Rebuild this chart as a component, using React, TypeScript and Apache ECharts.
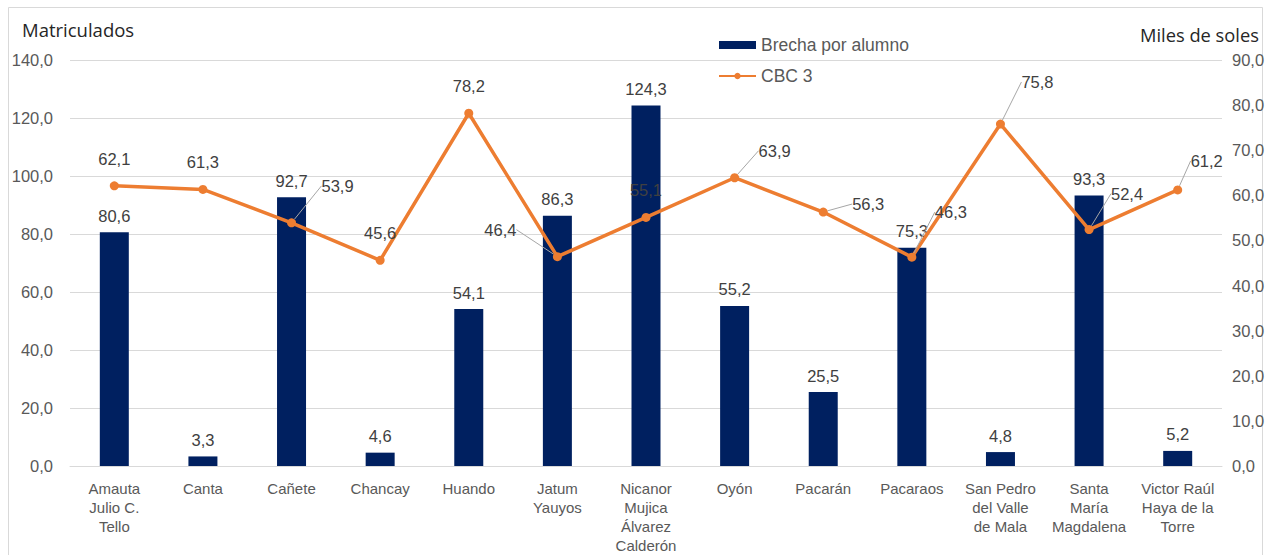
import React, { useEffect, useRef } from "react";
import * as echarts from "echarts";

const categories = [
  "Amauta\nJulio C.\nTello",
  "Canta",
  "Cañete",
  "Chancay",
  "Huando",
  "Jatum\nYauyos",
  "Nicanor\nMujica\nÁlvarez\nCalderón",
  "Oyón",
  "Pacarán",
  "Pacaraos",
  "San Pedro\ndel Valle\nde Mala",
  "Santa\nMaría\nMagdalena",
  "Victor Raúl\nHaya de la\nTorre",
];
const brechaPorAlumno = [80.6, 3.3, 92.7, 4.6, 54.1, 86.3, 124.3, 55.2, 25.5, 75.3, 4.8, 93.3, 5.2];
const cbc3 = [62.1, 61.3, 53.9, 45.6, 78.2, 46.4, 55.1, 63.9, 56.3, 46.3, 75.8, 52.4, 61.2];
// label shifts (dx, dy) for line labels that use leader lines
const cbcLabelShift: Record<number, [number, number]> = {
  2: [46, -10],
  5: [-57, 0],
  7: [40, 0],
  8: [45, 19],
  9: [39, -18],
  10: [37, -15],
  11: [38, -9],
  12: [29, -2],
};

const fmt = (v: number) => v.toFixed(1).replace(".", ",");
const FONT = "'Liberation Sans', Arial, sans-serif";
const NAME_FONT = "'Open Sans', 'Noto Sans', sans-serif";

export default function App() {
  const ref = useRef<HTMLDivElement>(null);
  useEffect(() => {
    if (!ref.current) return;
    const chart = echarts.init(ref.current, null, { renderer: "svg" });
    const lineData = cbc3.map((v, i) => ({
      value: v,
      labelLine: { show: !!cbcLabelShift[i] },
    }));
    chart.setOption({
      animation: false,
      textStyle: { fontFamily: FONT },
      grid: { left: 70, right: 49, top: 60, bottom: 87 },
      graphic: [
        {
          type: "rect",
          shape: { x: 8.5, y: 7.5, width: 1254, height: 600 },
          style: { fill: "none", stroke: "#d9d9d9", lineWidth: 1 },
          silent: true,
        },
        {
          type: "text",
          left: 22,
          top: 20,
          style: { text: "Matriculados", fontFamily: NAME_FONT, fontSize: 18.5, fill: "#262626" },
        },
        {
          type: "text",
          left: 1140,
          top: 25,
          style: { text: "Miles de soles", fontFamily: NAME_FONT, fontSize: 18.3, fill: "#262626" },
        },
      ],
      legend: {
        orient: "vertical",
        left: 713,
        top: 31,
        itemWidth: 37,
        itemHeight: 8,
        itemGap: 13,
        textStyle: { fontFamily: FONT, fontSize: 17.5, color: "#595959" },
        data: [
          { name: "Brecha por alumno", icon: "rect" },
          { name: "CBC 3" },
        ],
      },
      xAxis: {
        type: "category",
        data: categories,
        axisLine: { lineStyle: { color: "#d9d9d9" } },
        axisTick: { show: false },
        axisLabel: {
          interval: 0,
          fontFamily: FONT,
          fontSize: 15,
          lineHeight: 19,
          color: "#595959",
          margin: 13,
        },
      },
      yAxis: [
        {
          type: "value",
          min: 0,
          max: 140,
          interval: 20,
          axisLine: { show: false },
          axisTick: { show: false },
          splitLine: { lineStyle: { color: "#d9d9d9" } },
          axisLabel: { formatter: (v: number) => fmt(v), fontFamily: FONT, fontSize: 16.5, color: "#595959", margin: 17 },
        },
        {
          type: "value",
          min: 0,
          max: 90,
          interval: 10,
          axisLine: { show: false },
          axisTick: { show: false },
          splitLine: { show: false },
          axisLabel: { formatter: (v: number) => fmt(v), fontFamily: FONT, fontSize: 16.5, color: "#595959", margin: 10 },
        },
      ],
      series: [
        {
          name: "Brecha por alumno",
          type: "bar",
          yAxisIndex: 0,
          data: brechaPorAlumno,
          barWidth: 29,
          itemStyle: { color: "#002060" },
          label: {
            show: true,
            position: "top",
            distance: 8,
            formatter: (p: any) => fmt(p.value),
            fontFamily: FONT,
            fontSize: 16.5,
            color: "#404040",
          },
        },
        {
          name: "CBC 3",
          type: "line",
          yAxisIndex: 1,
          data: lineData,
          symbol: "circle",
          symbolSize: 9,
          lineStyle: { color: "#ED7D31", width: 3.5 },
          itemStyle: { color: "#ED7D31" },
          label: {
            show: true,
            position: "top",
            distance: 14,
            formatter: (p: any) => fmt(p.value),
            fontFamily: FONT,
            fontSize: 16.5,
            color: "#404040",
          },
          labelLine: { lineStyle: { color: "#a6a6a6", width: 1 } },
          labelLayout: (params: any) => {
            const s = cbcLabelShift[params.dataIndex];
            if (!s) return {};
            return { dx: s[0], dy: s[1] };
          },
        },
      ],
    });
    return () => chart.dispose();
  }, []);
  return <div ref={ref} style={{ position: "absolute", left: 0, top: 0, width: 1271, height: 555 }} />;
}
